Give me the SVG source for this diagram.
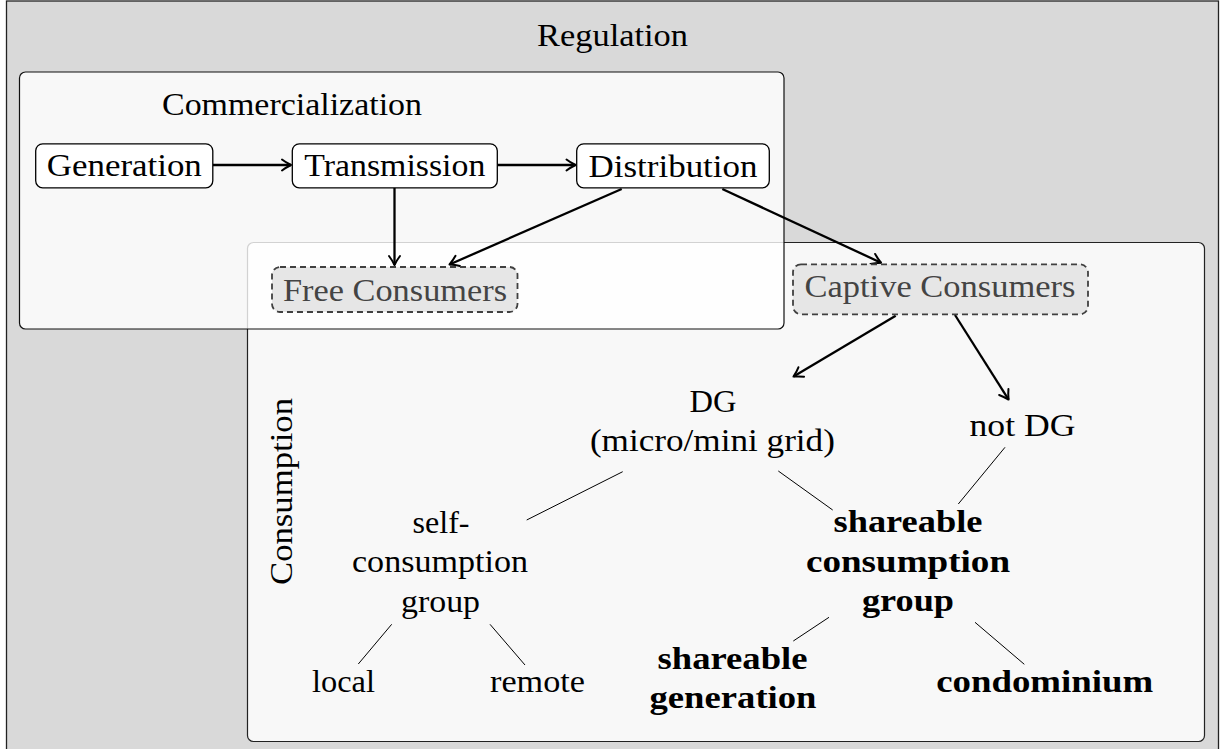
<svg xmlns="http://www.w3.org/2000/svg" width="1229" height="749" viewBox="0 0 1229 749">
<style>
text{font-family:"Liberation Serif","DejaVu Serif",serif;font-size:32px;fill:#000;text-anchor:middle}
.b{font-weight:bold}
.g{fill:#444}
.box{fill:#fff;stroke:#000;stroke-width:1.3}
.dash{fill:#e6e6e6;stroke:#404040;stroke-width:1.8;stroke-dasharray:6 4}
.arr{stroke:#000;stroke-width:2.3;fill:none;marker-end:url(#ah)}
.thin{stroke:#000;stroke-width:1;fill:none}
</style>
<defs>
<marker id="ah" markerUnits="userSpaceOnUse" viewBox="-14 -9 18 18" markerWidth="18" markerHeight="18" refX="0" refY="0" orient="auto" overflow="visible">
<path d="M-9,-5.5 C-5.5,-2.8 -1.8,-0.9 0,0 C-1.8,0.9 -5.5,2.8 -9,5.5" fill="none" stroke="#000" stroke-width="2" stroke-linecap="round" stroke-linejoin="round"/>
</marker>
</defs>
<g id="regulation">
<rect x="6.5" y="1" width="1212" height="770" fill="#d9d9d9" stroke="#222" stroke-width="1.3"/>
<text x="612.5" y="46" textLength="151" lengthAdjust="spacingAndGlyphs">Regulation</text>
</g>
<g id="consumption">
<rect x="247.5" y="242.5" width="957" height="499" rx="6" fill="#fff" fill-opacity="0.8" stroke="#222" stroke-width="1.2"/>
<text transform="translate(292,491.5) rotate(-90)" textLength="187" lengthAdjust="spacingAndGlyphs">Consumption</text>
</g>
<g id="commercialization">
<rect x="19.5" y="72" width="764.5" height="257" rx="6" fill="#fff" fill-opacity="0.8" stroke="#111" stroke-width="1.2"/>
<text x="292" y="115" textLength="260" lengthAdjust="spacingAndGlyphs">Commercialization</text>
</g>
<g id="connectors">
<line class="arr" x1="212.8" y1="165" x2="291" y2="165"/>
<line class="arr" x1="497.3" y1="165" x2="575.5" y2="165"/>
<line class="arr" x1="394.5" y1="187.7" x2="394.5" y2="265"/>
<line class="arr" x1="621.7" y1="189" x2="449.5" y2="264.5"/>
<line class="arr" x1="722.3" y1="189" x2="881" y2="262.7"/>
<line class="arr" x1="895.7" y1="315.7" x2="793.5" y2="376.6"/>
<line class="arr" x1="955" y1="315" x2="1008.6" y2="399.6"/>
<line class="thin" x1="526.7" y1="520" x2="622.7" y2="471.7"/>
<line class="thin" x1="778.3" y1="471" x2="832.7" y2="510"/>
<line class="thin" x1="1005" y1="447.3" x2="958.3" y2="504"/>
<line class="thin" x1="391.7" y1="624.3" x2="358.3" y2="664"/>
<line class="thin" x1="490" y1="624.3" x2="525" y2="665"/>
<line class="thin" x1="829" y1="617.3" x2="793.3" y2="641"/>
<line class="thin" x1="975" y1="622.3" x2="1024.3" y2="664.3"/>
</g>
<g id="generation">
<rect class="box" x="35.7" y="143.8" width="177.1" height="44" rx="7"/>
<text x="124.3" y="176" textLength="155" lengthAdjust="spacingAndGlyphs">Generation</text>
</g>
<g id="transmission">
<rect class="box" x="292.3" y="143.8" width="205" height="44" rx="7"/>
<text x="394.8" y="176" textLength="181" lengthAdjust="spacingAndGlyphs">Transmission</text>
</g>
<g id="distribution">
<rect class="box" x="576.7" y="143.8" width="192.6" height="44" rx="7"/>
<text x="673" y="176.5" textLength="169" lengthAdjust="spacingAndGlyphs">Distribution</text>
</g>
<g id="free-consumers">
<rect class="dash" x="272" y="267" width="245.5" height="45" rx="8"/>
<text class="g" x="395" y="300.5" textLength="224" lengthAdjust="spacingAndGlyphs">Free Consumers</text>
</g>
<g id="captive-consumers">
<rect class="dash" x="793" y="264.3" width="295" height="50" rx="8"/>
<text class="g" x="940" y="297" textLength="271" lengthAdjust="spacingAndGlyphs">Captive Consumers</text>
</g>
<g id="dg">
<text x="713" y="411.7" textLength="47" lengthAdjust="spacingAndGlyphs">DG</text>
<text x="712.4" y="450.5" textLength="245" lengthAdjust="spacingAndGlyphs">(micro/mini grid)</text>
</g>
<g id="not-dg">
<text x="1022.5" y="436" textLength="106" lengthAdjust="spacingAndGlyphs">not DG</text>
</g>
<g id="self-consumption-group">
<text x="441" y="532.5" textLength="57" lengthAdjust="spacingAndGlyphs">self-</text>
<text x="440" y="572.3" textLength="176" lengthAdjust="spacingAndGlyphs">consumption</text>
<text x="440.5" y="611.5" textLength="79" lengthAdjust="spacingAndGlyphs">group</text>
</g>
<g id="shareable-consumption-group">
<text class="b" x="908" y="532" textLength="149" lengthAdjust="spacingAndGlyphs">shareable</text>
<text class="b" x="908" y="572.3" textLength="204" lengthAdjust="spacingAndGlyphs">consumption</text>
<text class="b" x="908" y="611" textLength="92" lengthAdjust="spacingAndGlyphs">group</text>
</g>
<g id="local">
<text x="343.5" y="691.7" textLength="63" lengthAdjust="spacingAndGlyphs">local</text>
</g>
<g id="remote">
<text x="537.5" y="691.7" textLength="95" lengthAdjust="spacingAndGlyphs">remote</text>
</g>
<g id="shareable-generation">
<text class="b" x="732.5" y="669.3" textLength="150" lengthAdjust="spacingAndGlyphs">shareable</text>
<text class="b" x="733" y="708" textLength="167" lengthAdjust="spacingAndGlyphs">generation</text>
</g>
<g id="condominium">
<text class="b" x="1044.7" y="692.3" textLength="217" lengthAdjust="spacingAndGlyphs">condominium</text>
</g>
</svg>
